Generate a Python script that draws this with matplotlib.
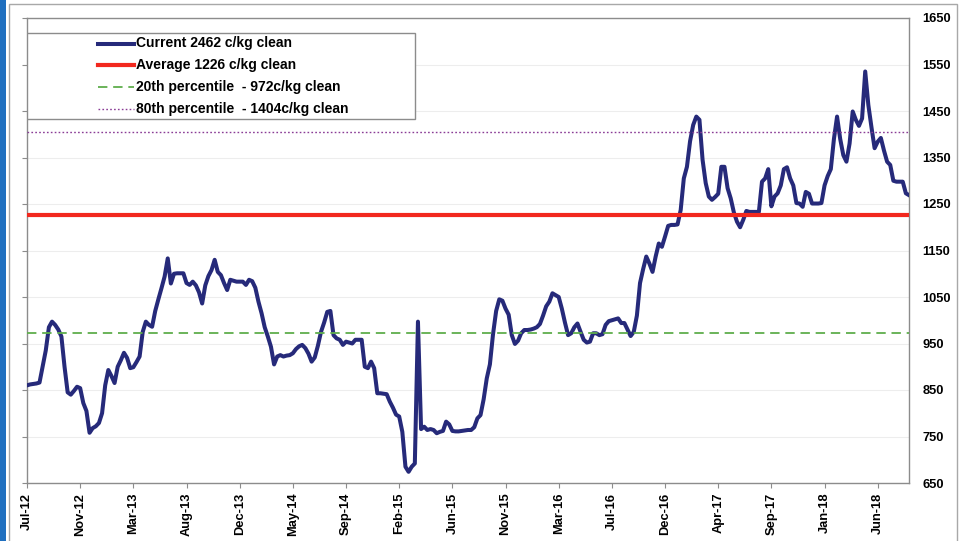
import matplotlib
matplotlib.use("Agg")
import matplotlib.pyplot as plt
from matplotlib.patches import Rectangle
from matplotlib.lines import Line2D

# ---------------- data ----------------
values = [
    860, 862, 863, 864, 866, 900, 935, 985, 997, 990,
    980, 965, 900, 845, 840, 848, 857, 854, 822, 805,
    758, 768, 772, 779, 800, 860, 893, 880, 865, 900,
    914, 930, 919, 897, 899, 910, 922, 975, 997, 990,
    986, 1020, 1045, 1069, 1094, 1133, 1079, 1100, 1101, 1101,
    1101, 1080, 1076, 1083, 1075, 1060, 1036, 1075, 1095, 1108,
    1130, 1104, 1097, 1080, 1065, 1087, 1085, 1083, 1083, 1083,
    1076, 1087, 1084, 1070, 1040, 1015, 985, 965, 943, 905,
    922, 925, 922, 924, 925, 929, 938, 944, 947, 940,
    928, 911, 920, 945, 975, 995, 1018, 1020, 968, 961,
    958, 947, 954, 952, 950, 958, 958, 958, 900, 897,
    911, 897, 843, 843, 842, 841, 825, 812, 797, 793,
    760, 685, 674, 685, 692, 997, 766, 771, 764, 766,
    764, 757, 760, 762, 782, 776, 762, 761, 761, 762,
    763, 764, 764, 770, 789, 796, 830, 875, 905, 970,
    1020, 1045, 1042, 1025, 1012, 968, 949, 956, 972, 979,
    979, 980, 982, 985, 992, 1010, 1030, 1040, 1058, 1054,
    1050, 1025, 995, 968, 972, 985, 993, 975, 958, 952,
    954, 972, 972, 968, 970, 990, 998, 1000, 1002, 1004,
    994, 994, 980, 966, 975, 1010, 1080, 1110, 1137, 1122,
    1104, 1137, 1165, 1158, 1180, 1203, 1205, 1205, 1206, 1237,
    1305, 1330, 1385, 1420, 1438, 1431, 1345, 1295, 1266, 1259,
    1265, 1272, 1330, 1330, 1284, 1262, 1232, 1212, 1200, 1216,
    1235, 1233, 1233, 1233, 1233, 1298, 1305, 1325, 1245, 1266,
    1273, 1290, 1325, 1329, 1305, 1290, 1252, 1251, 1244, 1276,
    1272, 1251, 1251, 1251, 1252, 1290, 1310, 1325, 1390, 1438,
    1390, 1355, 1341, 1380, 1449, 1431, 1418, 1434, 1535, 1463,
    1415, 1370, 1384, 1392, 1365, 1341, 1334, 1300, 1298, 1298,
    1298, 1273, 1269,
]
tick_labels = ["Jul-12", "Nov-12", "Mar-13", "Aug-13", "Dec-13", "May-14",
               "Sep-14", "Feb-15", "Jun-15", "Nov-15", "Mar-16", "Jul-16",
               "Dec-16", "Apr-17", "Sep-17", "Jan-18", "Jun-18"]
tick_step = 17
average = 1226
pct20 = 972
pct80 = 1404
y_ticks = list(range(650, 1651, 100))
legend_labels = ["Current 2462 c/kg clean",
                 "Average 1226 c/kg clean",
                 "20th percentile  - 972c/kg clean",
                 "80th percentile  - 1404c/kg clean"]

# ---------------- styles ----------------
NAVY = "#262a7a"
RED = "#f2281e"
GREEN = "#5fae4c"
PURPLE = "#8a3c96"
GRAY = "#8c8c8c"
FONT = "Liberation Sans"

W, H, DPI = 964, 541, 100
fig = plt.figure(figsize=(W / DPI, H / DPI), dpi=DPI)
fig.patch.set_facecolor("white")

# outer decorations
fig.patches.append(Rectangle((0, 0), 6 / W, 1, transform=fig.transFigure,
                             facecolor="#1f6fbf", edgecolor="none", zorder=0))
fig.patches.append(Rectangle((8.5 / W, -0.01), (957 - 8.5) / W, 1 - 3.5 / H + 0.01,
                             transform=fig.transFigure, facecolor="none",
                             edgecolor="#a8a8a8", lw=1.0, zorder=0))

L, R, T, B = 27, 909, 18, 483
ax = fig.add_axes([L / W, (H - B) / H, (R - L) / W, (B - T) / H])

x = list(range(len(values)))
ax.plot(x, values, color=NAVY, lw=2.9, solid_joinstyle="round", zorder=3)
ax.axhline(average, color=RED, lw=3.0, zorder=4)
ax.axhline(pct20, color=GREEN, lw=1.3, ls=(0, (5.2, 3.2)), zorder=4)
ax.axhline(pct80, color=PURPLE, lw=1.0, ls=(0, (1.2, 1.6)), zorder=4)

ax.set_xlim(0, len(values) - 1)
ax.set_ylim(650, 1650)
ax.set_yticks(y_ticks)
ax.set_yticklabels([str(v) for v in y_ticks])
ax.set_xticks([i * tick_step for i in range(len(tick_labels))])
ax.set_xticklabels(tick_labels, rotation=90, ha="center", va="top")

for yv in y_ticks:
    ax.axhline(yv, color="#ededed", lw=0.8, zorder=1)

for s in ax.spines.values():
    s.set_color(GRAY)
    s.set_linewidth(1.0)

ax.tick_params(axis="y", left=True, right=False, labelleft=False, labelright=True,
               length=3.5, width=0.8, color=GRAY, pad=6, direction="out")
ax.tick_params(axis="x", length=3.5, width=0.8, color=GRAY, pad=3.5, direction="out")
for lab in ax.get_xticklabels() + ax.get_yticklabels():
    lab.set_fontfamily(FONT)
    lab.set_fontweight("bold")
    lab.set_fontsize(9.3)
    lab.set_color("black")

# ---------------- manual legend ----------------
def fx(px):
    return (px - L) / (R - L)

def fy(py):
    return (B - py) / (B - T)

ax.add_patch(Rectangle((fx(27), fy(119)), fx(415) - fx(27), fy(33) - fy(119),
                       transform=ax.transAxes, facecolor="white",
                       edgecolor=GRAY, lw=1.0, zorder=6))
rows_y = [43.5, 65, 87, 108.5]
handle_styles = [
    dict(color=NAVY, lw=2.9),
    dict(color=RED, lw=3.0),
    dict(color=GREEN, lw=1.3, ls=(0, (5.2, 3.2))),
    dict(color=PURPLE, lw=1.0, ls=(0, (1.2, 1.6))),
]
for ry, lab, st in zip(rows_y, legend_labels, handle_styles):
    ax.add_line(Line2D([fx(98), fx(134)], [fy(ry), fy(ry)], transform=ax.transAxes,
                       zorder=7, **st))
    ax.text(fx(136), fy(ry), lab, transform=ax.transAxes, ha="left", va="center",
            fontfamily=FONT, fontweight="bold", fontsize=10, color="black", zorder=7)

fig.savefig("out.png", dpi=DPI)
